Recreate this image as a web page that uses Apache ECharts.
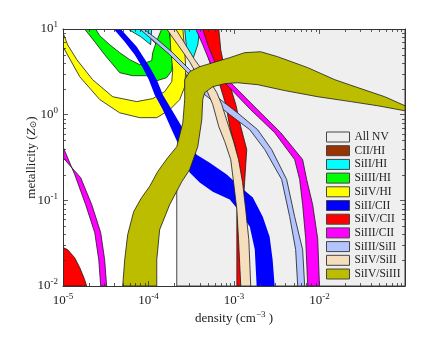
<!DOCTYPE html>
<html><head><meta charset="utf-8">
<script src="https://cdn.jsdelivr.net/npm/echarts@6.0.0/dist/echarts.min.js"></script>
<style>html,body{margin:0;padding:0;background:#fff}#c{width:436px;height:344px}</style>
</head><body><div id="c"></div>
<script>
// ---- legend / series names and colours ----
const seriesNames = ['All NV','CII/HI','SiII/HI','SiIII/HI','SiIV/HI','SiII/CII','SiIV/CII','SiIII/CII','SiIII/SiII','SiIV/SiII','SiIV/SiIII'];
const seriesColors = ['#efefef','#993300','#00ffff','#00ff00','#ffff00','#0000ff','#ff0000','#ff00ff','#b3c4ff','#f4debd','#bdbd00'];
const seriesOutlined = [true,true,true,true,true,false,true,true,true,true,true];

// ---- x tick labels (density, cm^-3) and y tick labels (metallicity, Zsun) ----
const xTicks = [1e-5, 1e-4, 1e-3, 1e-2];
const yTicks = [1e-2, 1e-1, 1, 10];

// ---- regions: each is a list of polygons of [density, metallicity] ----
const allNV = [
  [[2.14e-4,0.01],[2.14e-4,0.153],[2.80e-4,0.874],[2.80e-4,2.93],[1.77e-4,4.75],[1.18e-4,6.92],[8.55e-5,10],[0.1,10],[0.1,0.01]]
];
const ciiHI = [];
const siiHI = [
  [[5.71e-5,10],[1.09e-4,10],[1.06e-4,6.56],[8.11e-5,8.13]],
  [[2.65e-4,10],[3.97e-4,10],[3.77e-4,6.56],[3.29e-4,4.39],[2.80e-4,5.73]]
];
const siiiiHI = [
  [[1.79e-5,10],[2.35e-5,7.11],[3.07e-5,5.01],[4.61e-5,3.09],[6.53e-5,2.85],[9.53e-5,2.85],[1.25e-4,2.49],[1.63e-4,2.70],[1.87e-4,3.26],[1.92e-4,4.27],[1.87e-4,6.05],[1.77e-4,8.58],[1.77e-4,10],
   [1.43e-4,10],[1.25e-4,7.30],[1.12e-4,5.29],[1.09e-4,4.27],[7.89e-5,3.83],[6.03e-5,4.39],[4.61e-5,5.29],[3.52e-5,6.56],[2.69e-5,8.35],[2.41e-5,10]]
];
const sivHI = [
  [[1e-5,6.21],[1.57e-5,2.77],[2.69e-5,1.50],[4.61e-5,1.05],[7.89e-5,0.923],[1.25e-4,0.923],[1.77e-4,1.14],[2.32e-4,1.50],[2.65e-4,2.12],[2.73e-4,3.35],[2.65e-4,5.73],[2.52e-4,10],
   [1.77e-4,10],[1.82e-4,5.73],[1.92e-4,3.35],[1.87e-4,2.43],[1.55e-4,1.86],[1.12e-4,1.54],[7.28e-5,1.42],[3.81e-5,1.62],[2.22e-5,2.56],[1.45e-5,4.39],[1.13e-5,6.56],[1e-5,9.06]]
];
const siiCII = [
  [[3.92e-5,10],[5.27e-5,7.11],[6.90e-5,5.01],[8.55e-5,3.54],[1.01e-4,2.56],[1.18e-4,1.71],[1.47e-4,1.14],[1.87e-4,0.668],[2.45e-4,0.370],[3.03e-4,0.211],[3.97e-4,0.161],[5.65e-4,0.126],[8.92e-4,0.102],[1.17e-3,0.0738],[1.53e-3,0.0493],[1.75e-3,0.0266],[1.84e-3,0.01],
   [2.99e-3,0.01],[2.83e-3,0.0203],[2.61e-3,0.0377],[2.17e-3,0.0645],[1.66e-3,0.108],[1.17e-3,0.145],[8.22e-4,0.200],[5.20e-4,0.275],[3.66e-4,0.341],[3.03e-4,0.447],[2.45e-4,0.724],[1.87e-4,1.14],[1.47e-4,1.71],[1.25e-4,2.56],[1.03e-4,3.63],[7.28e-5,6.21],[4.73e-5,10]]
];
const sivCII = [
  [[4.31e-4,10],[4.80e-4,5.73],[5.49e-4,3.35],[6.81e-4,2.24],[8.02e-4,1.31],[8.92e-4,0.724],[1.05e-3,0.391],[1.10e-3,0.161],[1.08e-3,0.0596],[1.08e-3,0.01],
   [1.20e-3,0.01],[1.23e-3,0.0455],[1.33e-3,0.161],[1.41e-3,0.391],[1.20e-3,0.724],[1.05e-3,1.31],[8.92e-4,2.24],[7.80e-4,3.35],[7.00e-4,5.73],[6.64e-4,10]],
  [[1e-5,0.01],[1e-5,0.0281],[1.13e-5,0.0266],[1.37e-5,0.0214],[1.57e-5,0.0164],[1.79e-5,0.0119],[1.89e-5,0.01]]
];
const siiiCII = [
  [[3.57e-4,10],[4.31e-4,6.56],[5.20e-4,4.15],[6.46e-4,2.93],[7.80e-4,2.36],[1.57e-3,1.14],[2.99e-3,0.617],[5.12e-3,0.299],[5.86e-3,0.175],[6.35e-3,0.0891],[6.89e-3,0.0357],[7.28e-3,0.01],
   [1.0e-2,0.01],[9.53e-3,0.0357],[8.32e-3,0.0891],[7.08e-3,0.175],[6.35e-3,0.299],[3.52e-3,0.617],[1.89e-3,1.14],[9.16e-4,2.36],[7.19e-4,3.18],[5.96e-4,4.15],[4.93e-4,6.56],[4.31e-4,10]],
  [[1e-5,0.423],[1.37e-5,0.200],[1.84e-5,0.0891],[2.35e-5,0.0420],[2.62e-5,0.0203],[2.76e-5,0.01],
   [3.24e-5,0.01],[3.07e-5,0.0203],[2.76e-5,0.0420],[2.17e-5,0.0891],[1.61e-5,0.184],[1e-5,0.315]]
];
const siiiSiII = [
  [[7.89e-5,10],[1.18e-4,7.11],[1.77e-4,5.01],[2.80e-4,3.18],[4.55e-4,1.71],[5.96e-4,1.38],[8.92e-4,1.0],[1.53e-3,0.668],[2.29e-3,0.391],[3.61e-3,0.175],[4.48e-3,0.0645],[5.26e-3,0.0266],[5.56e-3,0.01],
   [6.71e-3,0.01],[6.35e-3,0.0266],[5.12e-3,0.0645],[4.13e-3,0.175],[2.76e-3,0.391],[1.89e-3,0.668],[1.10e-3,1.05],[7.19e-4,1.46],[5.20e-4,1.86],[3.03e-4,3.35],[1.92e-4,5.29],[1.28e-4,7.5],[8.79e-5,10]]
];
const sivSiII = [
  [[1.63e-4,10],[2.20e-4,6.56],[3.03e-4,4.15],[3.97e-4,2.56],[4.93e-4,1.81],[5.65e-4,1.31],[6.64e-4,0.724],[7.80e-4,0.484],[9.16e-4,0.299],[9.9e-4,0.161],[1.08e-3,0.0779],[1.13e-3,0.0348],[1.20e-3,0.01],
   [1.57e-3,0.01],[1.49e-3,0.0348],[1.37e-3,0.0779],[1.26e-3,0.161],[1.13e-3,0.299],[9.9e-4,0.484],[8.69e-4,0.724],[7.19e-4,1.31],[6.29e-4,1.81],[4.93e-4,2.70],[3.47e-4,4.39],[2.58e-4,7.11],[2.08e-4,10]]
];
const sivSiIII = [
  [[4.99e-5,0.01],[5.27e-5,0.0203],[5.71e-5,0.0398],[6.71e-5,0.0738],[8.32e-5,0.108],[1.03e-4,0.145],[1.28e-4,0.216],[1.68e-4,0.315],[2.14e-4,0.423],[2.52e-4,0.807],[2.65e-4,1.50],[2.65e-4,2.56],[3.03e-4,3.18],[3.97e-4,3.63],[5.65e-4,4.04],[8.92e-4,4.63],[1.33e-3,5.29],[2.05e-3,5.43],[3.24e-3,4.75],[7.28e-3,3.54],[1.51e-2,2.56],[2.80e-2,2.07],[5.79e-2,1.62],[0.1,1.27],
   [0.1,1.11],[4.80e-2,1.27],[2.32e-2,1.42],[9.53e-3,1.62],[3.92e-3,1.91],[1.89e-3,2.24],[1.10e-3,2.36],[7.80e-4,2.30],[5.65e-4,2.12],[4.55e-4,1.81],[4.31e-4,1.50],[4.20e-4,0.874],[3.77e-4,0.423],[3.03e-4,0.228],[2.45e-4,0.165],[1.77e-4,0.0891],[1.35e-4,0.0455],[1.25e-4,0.0203],[1.25e-4,0.01]]
];
const regions = [allNV, ciiHI, siiHI, siiiiHI, sivHI, siiCII, sivCII, siiiCII, siiiSiII, sivSiII, sivSiIII];

// minor tick positions of the log axes (2..9 within each decade)
const minorX = [], minorY = [];
for (let e = -5; e <= -2; e++) for (let k = 2; k <= 9; k++) minorX.push(k * Math.pow(10, e));
for (let e = -2; e <= 0; e++) for (let k = 2; k <= 9; k++) minorY.push(k * Math.pow(10, e));

const FONT = 'Liberation Serif';
const supRich = { s: { fontFamily: FONT, fontSize: 9, color: '#222', padding: [0, 0, 8, 0] } };
function powLabel(v) {
  const e = Math.round(Math.log10(v));
  return '10{s|' + e + '}';
}

const chart = echarts.init(document.getElementById('c'), null, { renderer: 'canvas' });

const series = regions.map((polys, i) => ({
  type: 'custom', name: seriesNames[i], coordinateSystem: 'cartesian2d', clip: true,
  xAxisIndex: 0, yAxisIndex: 0, silent: true, z: 2 + i * 0.01,
  itemStyle: { color: seriesColors[i] },
  data: polys.map((p, j) => [p[0][0], p[0][1], j]),
  encode: { x: 0, y: 1 },
  renderItem: (params, api) => {
    const poly = polys[params.dataIndex];
    const pts = poly.map(pt => api.coord(pt));
    return {
      type: 'polygon', shape: { points: pts },
      style: { fill: seriesColors[i], stroke: seriesOutlined[i] ? '#1a1a1a' : null, lineWidth: 0.8 }
    };
  }
}));

series.push({
  type: 'custom', name: '_ticks', coordinateSystem: 'cartesian2d', silent: true, z: 20,
  xAxisIndex: 0, yAxisIndex: 0,
  data: [[1e-3, 1]], encode: { x: 0, y: 1 },
  renderItem: (params, api) => {
    const cs = params.coordSys; const ch = [];
    const ln = (x1, y1, x2, y2) => ({ type: 'line', shape: { x1, y1, x2, y2 }, style: { stroke: '#333', lineWidth: 0.8 } });
    minorX.forEach(v => { const x = Math.round(api.coord([v, 1])[0]) + 0.5; ch.push(ln(x, cs.y + cs.height, x, cs.y + cs.height - 3)); ch.push(ln(x, cs.y, x, cs.y + 3)); });
    minorY.forEach(v => { const y = Math.round(api.coord([1e-3, v])[1]) + 0.5; ch.push(ln(cs.x, y, cs.x + 3, y)); ch.push(ln(cs.x + cs.width, y, cs.x + cs.width - 3, y)); });
    return { type: 'group', children: ch };
  }
});

const axisCommon = {
  type: 'log', logBase: 10, z: 10,
  axisLine: { show: true, onZero: false, lineStyle: { color: '#333', width: 1 } },
  axisTick: { show: true, inside: true, length: 5, lineStyle: { color: '#333', width: 0.8 } },
  splitLine: { show: false }, minorTick: { show: false }
};

chart.setOption({
  animation: false,
  backgroundColor: '#fff',
  grid: { left: 63, top: 29, right: 31, bottom: 58, containLabel: false },
  legend: {
    orient: 'vertical', left: 326, top: 131, padding: 0, itemWidth: 23, itemHeight: 10, itemGap: 1.7, icon: 'rect',
    selectedMode: false, z: 30,
    textStyle: { fontFamily: FONT, fontSize: 11.5, color: '#222' },
    data: seriesNames.map((n, i) => ({ name: n, itemStyle: { color: seriesColors[i], borderColor: '#444', borderWidth: 1 } }))
  },
  xAxis: [
    Object.assign({}, axisCommon, {
      position: 'bottom', min: 1e-5, max: 1e-1,
      name: 'density (cm{s|−3} )', nameLocation: 'middle', nameGap: 24, nameMoveOverlap: false,
      nameTextStyle: { fontFamily: FONT, fontSize: 13, color: '#222', rich: supRich },
      axisLabel: { fontFamily: FONT, fontSize: 13, color: '#222', margin: 6, rich: supRich,
        formatter: v => (xTicks.some(t => Math.abs(Math.log10(t) - Math.log10(v)) < 1e-6) ? powLabel(v) : '') }
    }),
    Object.assign({}, axisCommon, { position: 'top', min: 1e-5, max: 1e-1, axisLabel: { show: false } })
  ],
  yAxis: [
    Object.assign({}, axisCommon, {
      position: 'left', min: 1e-2, max: 10,
      name: 'metallicity ({i|Z}{u|⊙})', nameLocation: 'middle', nameGap: 25, nameMoveOverlap: false,
      nameTextStyle: { fontFamily: FONT, fontSize: 13, color: '#222',
        rich: { i: { fontFamily: FONT, fontSize: 13, fontStyle: 'italic', color: '#222' }, u: { fontFamily: 'DejaVu Serif', fontSize: 9, color: '#222', padding: [4, 0, 0, 0] } } },
      axisLabel: { fontFamily: FONT, fontSize: 13, color: '#222', margin: 5, rich: supRich,
        formatter: v => (yTicks.some(t => Math.abs(Math.log10(t) - Math.log10(v)) < 1e-6) ? powLabel(v) : '') }
    }),
    Object.assign({}, axisCommon, { position: 'right', min: 1e-2, max: 10, axisLabel: { show: false } })
  ],
  series: series
});
</script>
</body></html>
